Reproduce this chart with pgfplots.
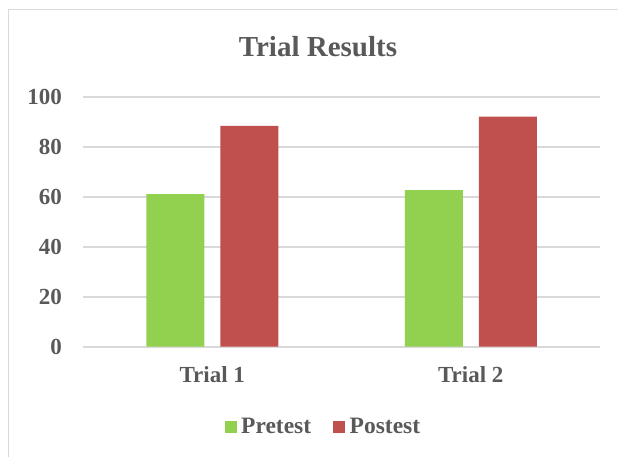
\documentclass[border=0pt]{standalone}
\usepackage{fontspec}
\setmainfont{Liberation Serif}
\usepackage{pgfplots}
\pgfplotsset{compat=1.18}
\definecolor{pregreen}{HTML}{92D050}
\definecolor{postred}{HTML}{C0504D}
\definecolor{txtgray}{HTML}{595959}
\definecolor{gridgray}{HTML}{D9D9D9}
\begin{document}
\begin{tikzpicture}[x=1pt,y=1pt]
\path[use as bounding box] (0,0) rectangle (618,456);
\draw[gridgray, line width=1.5pt] (8.7,-20) rectangle (640,446.3);
\node[anchor=base, text=txtgray, font=\fontsize{29}{34}\selectfont\bfseries] at (318,399) {Trial Results};
\begin{axis}[
  at={(83pt,109.3pt)}, anchor=south west,
  width=517pt, height=250pt, scale only axis,
  ybar=16pt, bar width=58pt,
  xmin=-0.5, xmax=1.5, ymin=0, ymax=100,
  xtick={0,1}, xticklabels={Trial 1, Trial 2},
  ytick={0,20,40,60,80,100},
  axis line style={draw=none},
  major tick length=0pt,
  ymajorgrids, grid style={gridgray, line width=1.6pt},
  /pgf/number format/assume math mode=true,
  ticklabel style={text=txtgray, font=\fontsize{23}{27}\selectfont\bfseries, inner sep=0pt},
  xticklabel style={anchor=base, yshift=-36pt},
  yticklabel style={anchor=east, xshift=-21pt},
  legend style={at={(0.465,-0.321)}, anchor=center, draw=none, fill=none,
    legend columns=2, inner sep=0pt,
    font=\fontsize{23.5}{27}\selectfont\bfseries, text=txtgray,
    /tikz/every even column/.append style={column sep=20pt}},
  legend cell align=left,
  legend image code/.code={\fill[#1, draw=none] (0pt,-6pt) rectangle (12pt,6pt); \path (14.5pt,0pt);},
]
\addplot[fill=pregreen, draw=none] coordinates {(0,61.0) (1,62.6)};
\addplot[fill=postred, draw=none] coordinates {(0,88.3) (1,92.0)};
\legend{Pretest, Postest}
\end{axis}
\end{tikzpicture}
\end{document}
